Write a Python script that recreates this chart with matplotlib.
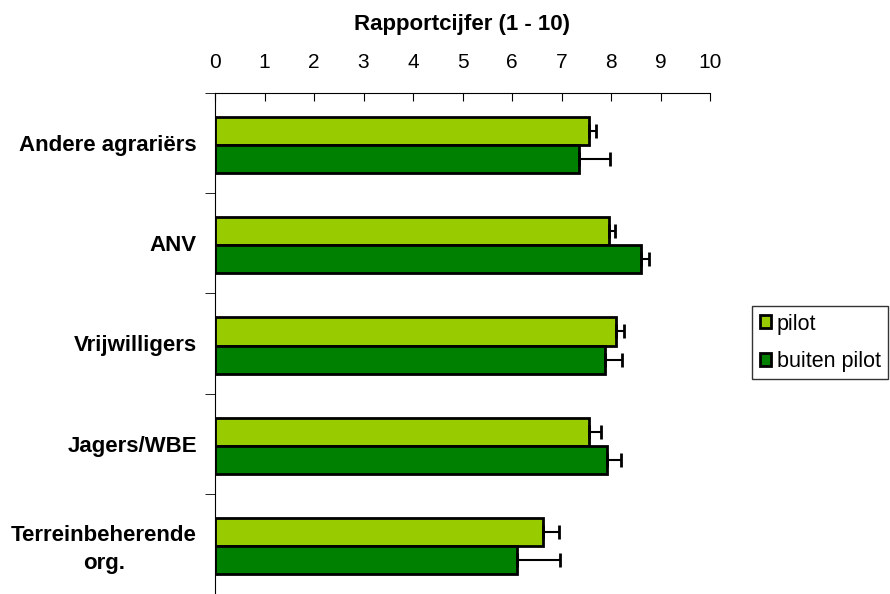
import matplotlib.pyplot as plt
import numpy as np

plt.rcParams['font.family'] = ['Liberation Sans', 'DejaVu Sans']

categories = ['Andere agrariërs', 'ANV', 'Vrijwilligers', 'Jagers/WBE',
              'Terreinbeherende\norg.']
pilot = [7.56, 7.95, 8.11, 7.56, 6.62]
pilot_top = [7.70, 8.09, 8.27, 7.79, 6.94]
buiten = [7.36, 8.61, 7.88, 7.91, 6.10]
buiten_top = [7.98, 8.77, 8.22, 8.20, 6.96]

pilot_err = np.array(pilot_top) - np.array(pilot)
buiten_err = np.array(buiten_top) - np.array(buiten)

fig = plt.figure(figsize=(8.9, 5.94), dpi=100)
ax = fig.add_axes([215 / 890, 0.0, 495 / 890, 1 - 93 / 594])

y = np.arange(len(categories))
h = 0.28
ax.barh(y - h / 2 + 0.02, pilot, height=h, color='#99CC00', edgecolor='black',
        linewidth=2, label='pilot', zorder=2)
ax.barh(y + h / 2 + 0.02, buiten, height=h, color='#008000', edgecolor='black',
        linewidth=2, label='buiten pilot', zorder=2)
ax.errorbar(pilot, y - h / 2 + 0.02, xerr=[np.zeros(len(pilot)), pilot_err],
            fmt='none', ecolor='black', elinewidth=1.5, capsize=5, capthick=2, zorder=3)
ax.errorbar(buiten, y + h / 2 + 0.02, xerr=[np.zeros(len(buiten)), buiten_err],
            fmt='none', ecolor='black', elinewidth=1.5, capsize=5, capthick=2, zorder=3)

ax.set_xlim(0, 10)
ax.set_ylim(len(categories) - 0.5, -0.5)

ax.xaxis.tick_top()
ax.xaxis.set_label_position('top')
ax.set_xticks(range(0, 11))
ax.tick_params(axis='x', direction='in', length=6, labelsize=15, pad=15)
ax.set_xlabel('Rapportcijfer (1 - 10)', fontsize=16, fontweight='bold', labelpad=17)

ax.set_yticks(y)
ax.set_yticklabels(categories, fontsize=16, fontweight='bold', ha='right',
                   multialignment='center', linespacing=1.4)
ax.tick_params(axis='y', length=0, pad=13)
ax.set_yticks(np.arange(-0.5, len(categories)), minor=True)
ax.tick_params(axis='y', which='minor', length=7, direction='out')

ax.spines['right'].set_visible(False)
ax.spines['bottom'].set_visible(False)

fig.legend(loc='upper left', bbox_to_anchor=(752 / 890, 1 - 306 / 594),
           fontsize=15.5, frameon=True, fancybox=False, edgecolor='black',
           handlelength=0.55, handleheight=0.55, handletextpad=0.25,
           borderpad=0.35, labelspacing=0.75, borderaxespad=0)

fig.savefig('out.png', dpi=100)
